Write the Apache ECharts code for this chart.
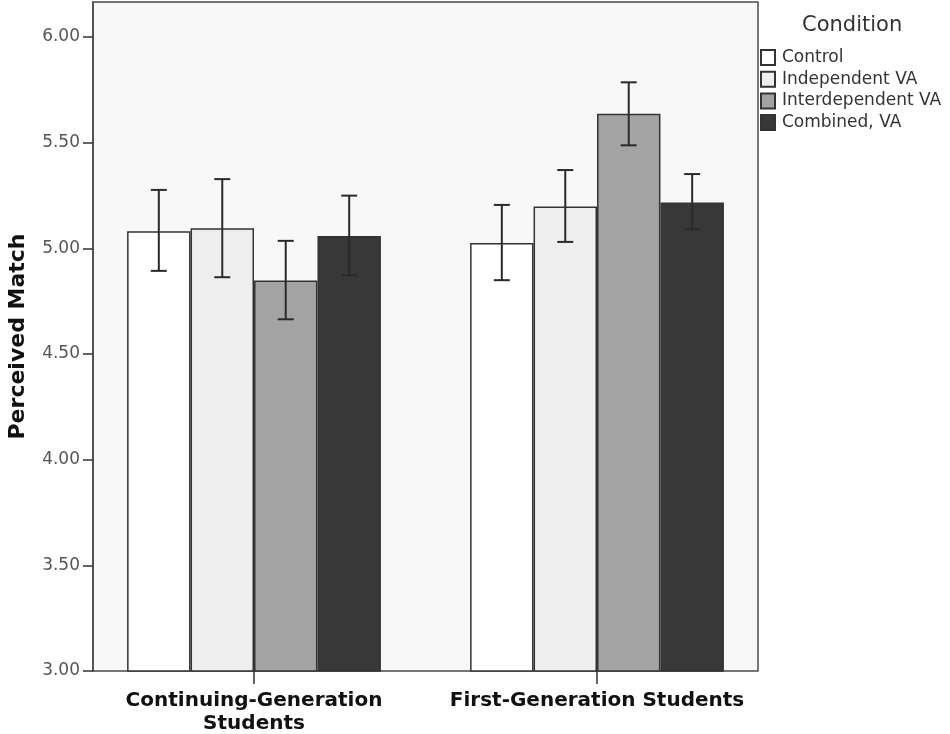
<!DOCTYPE html>
<html lang="en">
<head>
    <meta charset="UTF-8">
    <title>Perceived Match</title>
    <style>
        html, body { margin: 0; padding: 0; background: #fff; }
    </style>
</head>
<body>
    <div id="main" style="width: 950px;height:734px;"></div>
    <script src="https://cdn.jsdelivr.net/npm/echarts@6/dist/echarts.min.js"></script>
    <script>
    var categories = ['Continuing-Generation\nStudents', 'First-Generation Students'];
    var seriesNames = ['Control', 'Independent VA', 'Interdependent VA', 'Combined, VA'];
    var barColors = ['#ffffff', '#eeeeee', '#a3a3a3', '#383838'];
    // means per condition, [continuing, first-gen]
    var means = [
        [5.08, 5.025],
        [5.095, 5.198],
        [4.847, 5.636],
        [5.058, 5.217]
    ];
    // error bar ends
    var lower = [
        [4.893, 4.849],
        [4.863, 5.030],
        [4.664, 5.487],
        [4.872, 5.090]
    ];
    var upper = [
        [5.276, 5.205],
        [5.327, 5.370],
        [5.035, 5.785],
        [5.249, 5.351]
    ];
    var yTicks = [3, 3.5, 4, 4.5, 5, 5.5, 6];

    var font = 'DejaVu Sans';
    var catGap = 0.26;

    var myChart = echarts.init(document.getElementById('main'));

    function errorRender(k) {
        return function(params, api) {
            var x = api.value(0);
            var lo = api.coord([x, api.value(1)]);
            var hi = api.coord([x, api.value(2)]);
            var band = api.size([1, 0])[0];
            var bw = band * (1 - catGap) / seriesNames.length;
            var cx = lo[0] + (k - (seriesNames.length - 1) / 2) * bw;
            var cap = 8;
            var style = { stroke: '#2a2a2a', lineWidth: 2 };
            return {
                type: 'group',
                children: [
                    { type: 'line', shape: { x1: cx, y1: lo[1], x2: cx, y2: hi[1] }, style: style },
                    { type: 'line', shape: { x1: cx - cap, y1: hi[1], x2: cx + cap, y2: hi[1] }, style: style },
                    { type: 'line', shape: { x1: cx - cap, y1: lo[1], x2: cx + cap, y2: lo[1] }, style: style }
                ]
            };
        };
    }

    var series = [];
    seriesNames.forEach(function(name, k) {
        series.push({
            name: name,
            type: 'bar',
            xAxisIndex: 1,
            yAxisIndex: 1,
            barGap: '0%',
            barCategoryGap: (catGap * 100) + '%',
            data: means[k],
            itemStyle: {
                color: barColors[k],
                borderColor: '#333',
                borderWidth: 1.5
            }
        });
    });
    seriesNames.forEach(function(name, k) {
        series.push({
            type: 'custom',
            xAxisIndex: 1,
            yAxisIndex: 1,
            z: 10,
            renderItem: errorRender(k),
            data: categories.map(function(c, i) { return [i, lower[k][i], upper[k][i]]; })
        });
    });

    var option = {
        backgroundColor: '#fff',
        animation: false,
        title: {
            text: 'Condition',
            left: 802,
            top: 15,
            padding: 0,
            textStyle: { fontFamily: font, fontSize: 21, fontWeight: 'normal', color: '#333' }
        },
        legend: {
            data: seriesNames,
            orient: 'vertical',
            left: 760,
            top: 49,
            padding: 0,
            itemWidth: 14,
            itemHeight: 15,
            itemGap: 4.7,
            icon: 'rect',
            textStyle: { fontFamily: font, fontSize: 17, color: '#333', padding: [0, 0, 0, 2] }
        },
        grid: [
            { left: 93, right: 192, top: 2, bottom: 63, show: true, outerBoundsMode: 'none',
              backgroundColor: '#f8f8f8', borderColor: '#4a4a4a', borderWidth: 1.5 },
            { left: 82.5, right: 181.5, top: 2, bottom: 63, outerBoundsMode: 'none' }
        ],
        xAxis: [
            { gridIndex: 0, type: 'category', data: categories, show: false },
            {
                gridIndex: 1,
                type: 'category',
                data: categories,
                axisLine: { show: false },
                axisTick: { show: true, alignWithLabel: true, interval: 0, length: 13,
                    lineStyle: { color: '#333', width: 1.5 } },
                axisLabel: {
                    interval: 0,
                    hideOverlap: false,
                    margin: 18,
                    fontFamily: font,
                    fontSize: 20,
                    fontWeight: 'bold',
                    color: '#111',
                    lineHeight: 23
                }
            }
        ],
        yAxis: [
            {
                gridIndex: 0,
                type: 'value',
                min: 3,
                max: 6.165,
                interval: 0.5,
                name: 'Perceived Match',
                nameLocation: 'middle',
                nameGap: 64,
                nameTextStyle: { fontFamily: font, fontSize: 22, fontWeight: 'bold', color: '#111' },
                axisLine: { show: true, lineStyle: { color: '#4a4a4a', width: 1.5 } },
                axisTick: { show: true, length: 10, customValues: yTicks,
                    lineStyle: { color: '#333', width: 1.5 } },
                axisLabel: {
                    customValues: yTicks,
                    margin: 13,
                    fontFamily: font,
                    fontSize: 17,
                    color: '#555',
                    formatter: function(v) { return v.toFixed(2); }
                },
                splitLine: { show: false }
            },
            { gridIndex: 1, type: 'value', min: 3, max: 6.165, show: false }
        ],
        series: series
    };

    myChart.setOption(option);
    </script>
</body>
</html>
